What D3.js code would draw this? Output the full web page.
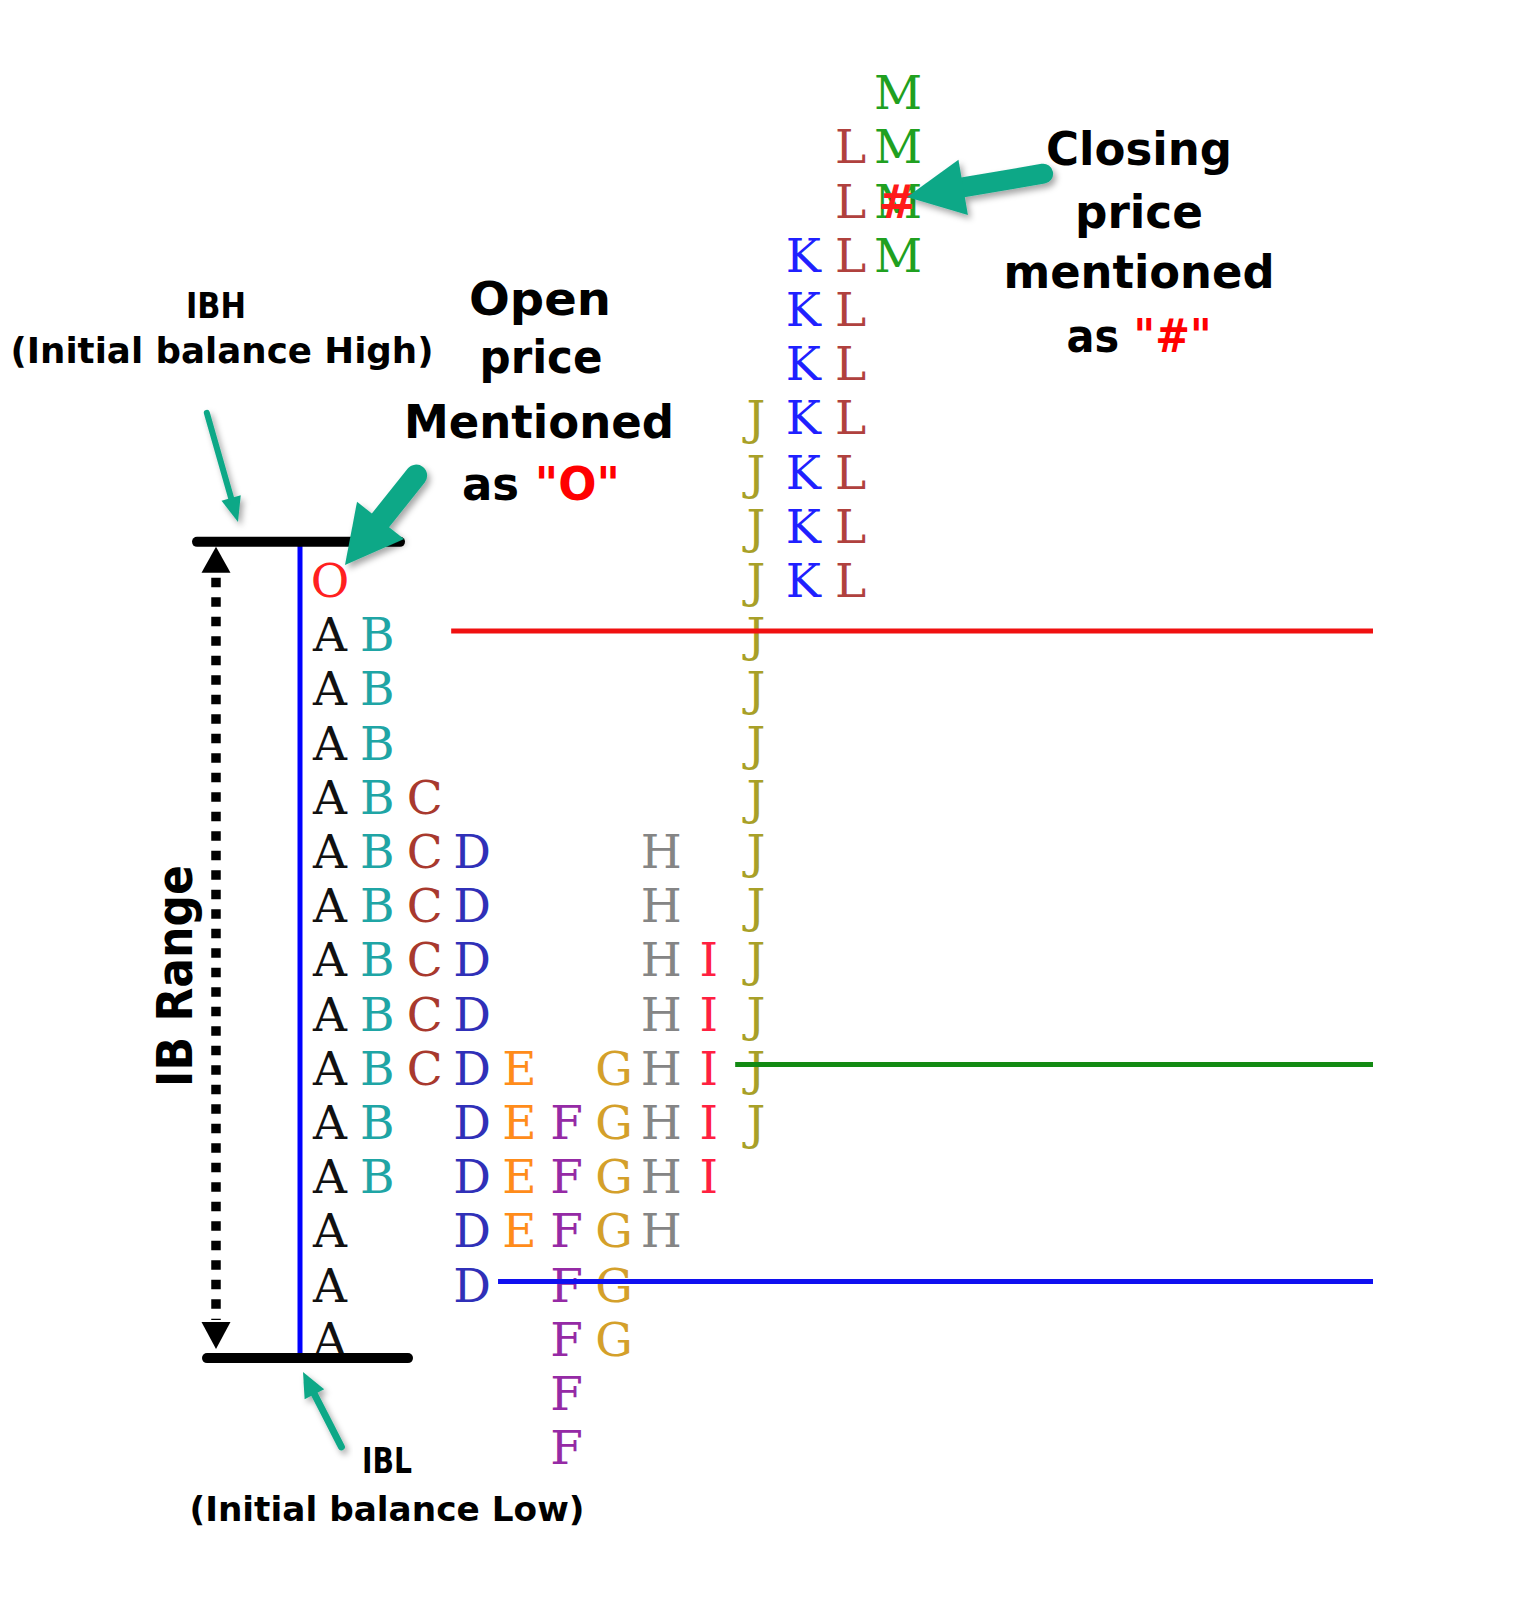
<!DOCTYPE html>
<html>
<head>
<meta charset="utf-8">
<script src="https://cdn.jsdelivr.net/npm/d3@7"></script>
<style>
  body { margin: 0; background: #fff; }
</style>
</head>
<body>
<svg id="vis" width="1539" height="1600"></svg>
<script>
// TPO periods and the price rows (0 = top) each one traded through
let periods = ["A", "B", "C", "D", "E", "F", "G", "H", "I", "J", "K", "L", "M"];
let periodColors = ["#111111", "#1fa5a5", "#a8392e", "#3030b8", "#ff8c1a", "#952aa5", "#d4a02a",
                    "#858585", "#ff2040", "#a8a028", "#2020ff", "#b0413e", "#20a020"];
let periodHigh = [10, 10, 13, 14, 18, 19, 18, 14, 16, 6, 3, 1, 0];
let periodLow  = [23, 20, 18, 22, 21, 25, 23, 21, 20, 19, 9, 9, 3];

// open / close markers: [row, column]
let openMark = [9, 0];
let closeMark = [2, 12];

// value area high, point of control, value area low: row and start column
let levelNames = ["VAH", "POC", "VAL"];
let levelRows = [10, 18, 22];
let levelStart = [2.56, 8.56, 3.55];
let levelColors = ["#f01010", "#138a13", "#1010f0"];

// initial balance, in rows
let ibHigh = 8.3;
let ibLow = 23.36;

let svg = d3.select("#vis");

let nRows = 26;
let y = d3.scaleLinear().domain([0, nRows - 1]).range([92, 92 + 54.2 * (nRows - 1)]);
let x = d3.scaleLinear().domain([0, periods.length - 1]).range([330, 898]);

let letterFont = '"DejaVu Serif", "Liberation Serif", serif';
let letterSize = 47;
let capShift = letterSize * 0.729 / 2;

// build the cells from the period ranges
let cells = [];
for (let i = 0; i < periods.length; i++) {
  for (let r = periodHigh[i]; r <= periodLow[i]; r++) {
    cells.push({row: r, col: i, letter: periods[i], color: periodColors[i]});
  }
}

let letters = svg.append("g").attr("class", "letters");
letters.selectAll("text.tpo")
  .data(cells)
  .enter().append("text")
  .attr("class", "tpo")
  .attr("x", d => x(d.col))
  .attr("y", d => y(d.row) + capShift)
  .attr("text-anchor", "middle")
  .style("font-family", letterFont)
  .style("font-size", letterSize + "px")
  .attr("fill", d => d.color)
  .text(d => d.letter);

letters.append("text")
  .attr("x", x(openMark[1]))
  .attr("y", y(openMark[0]) + capShift)
  .attr("text-anchor", "middle")
  .style("font-family", letterFont)
  .style("font-size", letterSize + "px")
  .attr("fill", "#ff2020")
  .text("O");

letters.append("text")
  .attr("x", x(closeMark[1]))
  .attr("y", y(closeMark[0]) + capShift)
  .attr("text-anchor", "middle")
  .style("font-family", letterFont)
  .style("font-size", letterSize + "px")
  .style("font-weight", "bold")
  .attr("fill", "#ff1a1a")
  .text("#");

// reference lines
let lineEnd = 1373;
svg.append("g").selectAll("line")
  .data(levelNames)
  .enter().append("line")
  .attr("x1", (d, i) => x(levelStart[i]))
  .attr("x2", lineEnd)
  .attr("y1", (d, i) => y(levelRows[i]) - 3)
  .attr("y2", (d, i) => y(levelRows[i]) - 3)
  .attr("stroke", (d, i) => levelColors[i])
  .attr("stroke-width", 5);

// initial balance frame
let ib = svg.append("g");
ib.append("line")
  .attr("x1", 300).attr("x2", 300)
  .attr("y1", y(ibHigh)).attr("y2", y(ibLow))
  .attr("stroke", "#0000ff").attr("stroke-width", 5);
ib.append("line")
  .attr("x1", 197).attr("x2", 400)
  .attr("y1", y(ibHigh)).attr("y2", y(ibHigh))
  .attr("stroke", "#000").attr("stroke-width", 10).attr("stroke-linecap", "round");
ib.append("line")
  .attr("x1", 207).attr("x2", 408)
  .attr("y1", y(ibLow)).attr("y2", y(ibLow))
  .attr("stroke", "#000").attr("stroke-width", 10).attr("stroke-linecap", "round");

// dotted range arrow
let ax = 216;
ib.append("line")
  .attr("x1", ax).attr("x2", ax)
  .attr("y1", y(ibHigh) + 36).attr("y2", y(ibLow) - 38)
  .attr("stroke", "#000").attr("stroke-width", 9.5)
  .attr("stroke-dasharray", "9.5,10");
ib.append("path")
  .attr("d", "M" + ax + "," + (y(ibHigh) + 5) + "L" + (ax + 14.5) + "," + (y(ibHigh) + 31) + "L" + (ax - 14.5) + "," + (y(ibHigh) + 31) + "Z")
  .attr("fill", "#000");
ib.append("path")
  .attr("d", "M" + ax + "," + (y(ibLow) - 9) + "L" + (ax + 14.5) + "," + (y(ibLow) - 36) + "L" + (ax - 14.5) + "," + (y(ibLow) - 36) + "Z")
  .attr("fill", "#000");

// green pointer arrows
let defs = svg.append("defs");
defs.append("filter").attr("id", "shadow")
  .attr("x", "-30%").attr("y", "-30%").attr("width", "160%").attr("height", "160%")
  .append("feDropShadow")
  .attr("dx", 3).attr("dy", 4).attr("stdDeviation", 3)
  .attr("flood-color", "#000").attr("flood-opacity", 0.35);

let arrowColor = "#10a887";
function drawArrow(tail, tip, shaftW, headLen, headHalf) {
  let dx = tip[0] - tail[0], dy = tip[1] - tail[1];
  let len = Math.sqrt(dx * dx + dy * dy);
  let ux = dx / len, uy = dy / len;
  let nx = -uy, ny = ux;
  let bx = tip[0] - ux * headLen, by = tip[1] - uy * headLen;
  let g = svg.append("g").attr("filter", "url(#shadow)");
  g.append("line")
    .attr("x1", tail[0] + ux * shaftW / 2).attr("y1", tail[1] + uy * shaftW / 2)
    .attr("x2", bx + ux * 2).attr("y2", by + uy * 2)
    .attr("stroke", arrowColor).attr("stroke-width", shaftW).attr("stroke-linecap", "round");
  g.append("path")
    .attr("d", "M" + tip[0] + "," + tip[1]
      + "L" + (bx + nx * headHalf) + "," + (by + ny * headHalf)
      + "L" + (bx - nx * headHalf) + "," + (by - ny * headHalf) + "Z")
    .attr("fill", arrowColor);
}
drawArrow([423, 467], [345, 565], 22, 57, 30);
drawArrow([1053, 172], [907, 197], 20, 57, 28);
drawArrow([206, 410], [238, 522], 6, 25, 10);
drawArrow([343, 1450], [303, 1372], 7, 25, 11);

// annotation text
let annFont = '"Century Gothic", "DejaVu Sans", sans-serif';
function label(parts, px, py, size, len) {
  let t = svg.append("text")
    .attr("x", px).attr("y", py)
    .attr("text-anchor", "middle")
    .style("font-family", annFont)
    .style("font-weight", "bold")
    .style("font-size", size + "px");
  if (len) t.attr("textLength", len).attr("lengthAdjust", "spacingAndGlyphs");
  parts.forEach(function(p) {
    t.append("tspan").attr("fill", p[1]).text(p[0]);
  });
  return t;
}

label([["IBH", "#000"]], 216, 318, 36, 60);
label([["(Initial balance High)", "#000"]], 222, 363, 36, 423);

label([["Open", "#000"]], 540, 315, 46, 142);
label([["price", "#000"]], 541, 373, 46, 123);
label([["Mentioned", "#000"]], 539, 438, 46, 270);
label([["as ", "#000"], ["\"O\"", "#ff0000"]], 541, 500, 46, 158);

label([["Closing", "#000"]], 1139, 165, 46, 186);
label([["price", "#000"]], 1139, 228, 46, 128);
label([["mentioned", "#000"]], 1139, 288, 46, 271);
label([["as ", "#000"], ["\"#\"", "#ff0000"]], 1139, 352, 46, 145);

label([["IBL", "#000"]], 387, 1473, 36, 50);
label([["(Initial balance Low)", "#000"]], 387, 1521, 33, 395);

label([["IB Range", "#000"]], 0, 0, 50, 222)
  .attr("transform", "translate(192,976) rotate(-90)");
</script>
</body>
</html>
